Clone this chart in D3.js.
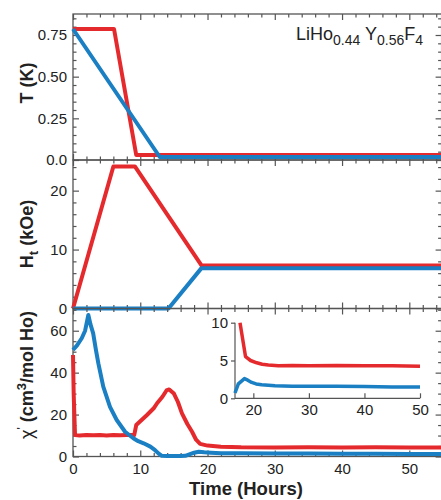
<!DOCTYPE html>
<html>
<head>
<meta charset="utf-8">
<script src="https://cdn.jsdelivr.net/npm/d3@7"></script>
<style>
  body { margin: 0; background: #fff; }
  svg { display: block; font-family: "Liberation Sans", Arial, sans-serif; }
</style>
</head>
<body>
<svg id="chart" width="441" height="500"></svg>
<script>
// ---- data ----
// temperature panel (K)
const tempRedT = [0, 6.1, 9.4, 54.8];
const tempRedV = [0.786, 0.786, 0.03, 0.03];
const tempBlueT = [0, 12.9, 54.8];
const tempBlueV = [0.786, 0.018, 0.018];

// transverse field panel (kOe)
const fieldRedT = [0, 6.0, 9.2, 19.1, 54.8];
const fieldRedV = [0, 24.1, 24.1, 7.3, 7.3];
const fieldBlueT = [0, 14.2, 19.1, 54.8];
const fieldBlueV = [0, 0, 6.85, 6.85];

// susceptibility panel (cm3/mol Ho)
const chiRedT = [0, 0.1, 0.3, 1, 2, 3, 4, 5, 6, 7, 8, 9.1, 9.4, 10, 11, 12, 12.5, 13.3, 13.9, 14.3, 15, 15.6, 16.2, 17, 17.7, 18.3, 18.9, 20, 22, 25, 30, 35, 40, 45, 50, 54.8];
const chiRedV = [48.4, 30, 10.2, 10.0, 10.3, 10.1, 10.2, 10.0, 10.3, 10.1, 10.2, 10.2, 15.0, 16.8, 19.8, 23, 25.4, 28.5, 31.5, 32, 30, 26, 20.6, 15.5, 11.8, 8, 6.0, 5.2, 4.7, 4.4, 4.3, 4.4, 4.3, 4.4, 4.3, 4.3];
const chiBlueT = [0, 0.6, 1.3, 1.8, 2.28, 2.6, 3.0, 3.4, 3.77, 4.5, 5.5, 6.5, 7.74, 8.97, 9.7, 10.5, 11.5, 12.2, 12.7, 13.2, 14, 15, 16, 16.7, 17.3, 18, 18.7, 19.5, 20.5, 22, 25, 30, 35, 40, 45, 50, 54.8];
const chiBlueV = [50.8, 53, 56.4, 60, 67.5, 63, 58.7, 51, 44.4, 33.3, 23.7, 17.4, 11.8, 8.7, 7.3, 6.3, 4.7, 3, 1.5, 0.3, 0.2, 0.2, 0.2, 0.3, 1.0, 1.8, 2.3, 2.0, 1.8, 1.6, 1.5, 1.4, 1.4, 1.3, 1.3, 1.2, 1.2];

// inset (zoom of the susceptibility after 17 h)
const insetRedT = [17.6, 18.6, 19.5, 20.6, 21.6, 22.7, 24.5, 27, 30, 35, 40, 45, 50];
const insetRedV = [10, 5.5, 5.0, 4.7, 4.5, 4.4, 4.3, 4.35, 4.3, 4.35, 4.3, 4.3, 4.25];
const insetBlueT = [16.7, 17.3, 18.4, 19.0, 19.7, 20.5, 21.5, 23.9, 27, 30, 35, 40, 45, 50];
const insetBlueV = [0.7, 1.9, 2.6, 2.4, 2.1, 1.9, 1.8, 1.65, 1.6, 1.6, 1.6, 1.55, 1.5, 1.5];

const xTicks = [0, 10, 20, 30, 40, 50];
const insetXTicks = [20, 30, 40, 50];
const insetYTicks = [0, 5, 10];

const RED = "#e52a2e";
const BLUE = "#1a7fc3";
const AXIS = "#555";
const TEXT = "#222";

const svg = d3.select("#chart");

const x = d3.scaleLinear().domain([0, 54.8]).range([73, 441.6]);

const panels = [
  { top: 14, bottom: 160, domain: [0, 0.876], major: [0, 0.25, 0.5, 0.75], minorStep: 0.05,
    fmt: d => d === 0 ? "0.0" : d3.format(".2f")(d),
    red: [tempRedT, tempRedV], blue: [tempBlueT, tempBlueV] },
  { top: 160, bottom: 308.5, domain: [0, 25.2], major: [0, 10, 20], minorStep: 2,
    fmt: d3.format("d"),
    red: [fieldRedT, fieldRedV], blue: [fieldBlueT, fieldBlueV] },
  { top: 308.5, bottom: 456.5, domain: [0, 70.6], major: [0, 20, 40, 60], minorStep: 5,
    fmt: d3.format("d"),
    red: [chiRedT, chiRedV], blue: [chiBlueT, chiBlueV] }
];

function zip(ts, vs) { return ts.map((t, i) => [t, vs[i]]); }

function styleAxis(g) {
  g.select(".domain").remove();
  g.selectAll(".tick line").attr("stroke", AXIS).attr("stroke-width", 1.2);
  g.selectAll(".tick text").attr("fill", TEXT).style("font-size", "15px");
}

const xMinor = d3.range(0, 55, 2).filter(v => v % 10 !== 0);

panels.forEach((p, idx) => {
  const y = d3.scaleLinear().domain(p.domain).range([p.bottom, p.top]);
  const minor = d3.range(0, p.domain[1], p.minorStep)
    .filter(v => !p.major.some(m => Math.abs(m - v) < 1e-6));

  // frame
  svg.append("rect")
    .attr("x", x.range()[0]).attr("y", p.top)
    .attr("width", x.range()[1] - x.range()[0]).attr("height", p.bottom - p.top)
    .attr("fill", "none").attr("stroke", AXIS).attr("stroke-width", 1.3);

  // left axis
  svg.append("g").attr("transform", `translate(${x.range()[0]},0)`)
    .call(d3.axisLeft(y).tickValues(p.major).tickFormat(p.fmt).tickSize(-6).tickPadding(6))
    .call(styleAxis);
  svg.append("g").attr("transform", `translate(${x.range()[0]},0)`)
    .call(d3.axisLeft(y).tickValues(minor).tickFormat("").tickSize(-3.5))
    .call(styleAxis);
  // right axis
  svg.append("g").attr("transform", `translate(${x.range()[1]},0)`)
    .call(d3.axisRight(y).tickValues(p.major).tickFormat("").tickSize(-6))
    .call(styleAxis);
  svg.append("g").attr("transform", `translate(${x.range()[1]},0)`)
    .call(d3.axisRight(y).tickValues(minor).tickFormat("").tickSize(-3.5))
    .call(styleAxis);

  // top & bottom x ticks (inward)
  svg.append("g").attr("transform", `translate(0,${p.top})`)
    .call(d3.axisTop(x).tickValues(xTicks).tickFormat("").tickSize(-6))
    .call(styleAxis);
  svg.append("g").attr("transform", `translate(0,${p.top})`)
    .call(d3.axisTop(x).tickValues(xMinor).tickFormat("").tickSize(-3.5))
    .call(styleAxis);
  svg.append("g").attr("transform", `translate(0,${p.bottom})`)
    .call(d3.axisBottom(x).tickValues(xTicks)
      .tickFormat(idx === 2 ? d3.format("d") : "").tickSize(-6).tickPadding(7))
    .call(styleAxis);
  svg.append("g").attr("transform", `translate(0,${p.bottom})`)
    .call(d3.axisBottom(x).tickValues(xMinor).tickFormat("").tickSize(-3.5))
    .call(styleAxis);

  const line = d3.line().x(d => x(d[0])).y(d => y(d[1]));
  svg.append("path").datum(zip(p.red[0], p.red[1]))
    .attr("d", line).attr("fill", "none").attr("stroke", RED)
    .attr("stroke-width", 4).attr("stroke-linejoin", "round");
  svg.append("path").datum(zip(p.blue[0], p.blue[1]))
    .attr("d", line).attr("fill", "none").attr("stroke", BLUE)
    .attr("stroke-width", 4).attr("stroke-linejoin", "round");
});

// ---- inset ----
const xi = d3.scaleLinear().domain([16.7, 50]).range([235, 420]);
const yi = d3.scaleLinear().domain([0, 10]).range([398.3, 322.7]);

const inset = svg.append("g");
inset.append("path")
  .attr("d", `M${xi.range()[0]},${yi(10)}V${yi(0)}H${xi.range()[1]}`)
  .attr("fill", "none").attr("stroke", AXIS).attr("stroke-width", 1.2);
inset.append("g").attr("transform", `translate(${xi.range()[0]},0)`)
  .call(d3.axisLeft(yi).tickValues(insetYTicks).tickSize(4).tickPadding(3))
  .call(styleAxis);
inset.append("g").attr("transform", `translate(0,${yi(0)})`)
  .call(d3.axisBottom(xi).tickValues(insetXTicks).tickSize(-5).tickPadding(6))
  .call(styleAxis);

const lineI = d3.line().x(d => xi(d[0])).y(d => yi(d[1]));
inset.append("path").datum(zip(insetRedT, insetRedV))
  .attr("d", lineI).attr("fill", "none").attr("stroke", RED)
  .attr("stroke-width", 3.5).attr("stroke-linejoin", "round");
inset.append("path").datum(zip(insetBlueT, insetBlueV))
  .attr("d", lineI).attr("fill", "none").attr("stroke", BLUE)
  .attr("stroke-width", 3.5).attr("stroke-linejoin", "round");

// ---- texts ----
const title = svg.append("text")
  .attr("x", 423).attr("y", 40).attr("text-anchor", "end")
  .attr("fill", TEXT).style("font-size", "18px");
title.append("tspan").text("LiHo");
title.append("tspan").attr("dy", 5).style("font-size", "14px").text("0.44");
title.append("tspan").attr("dy", -5).text(" Y");
title.append("tspan").attr("dy", 5).style("font-size", "14px").text("0.56");
title.append("tspan").attr("dy", -5).text("F");
title.append("tspan").attr("dy", 5).style("font-size", "14px").text("4");

function yLabel(cy) {
  return svg.append("text")
    .attr("transform", `translate(27,${cy}) rotate(-90)`)
    .attr("text-anchor", "middle").attr("dy", "0.35em")
    .attr("fill", TEXT).style("font-size", "18px").style("font-weight", "bold");
}

yLabel(83).text("T (K)");

const hl = yLabel(234);
hl.append("tspan").text("H");
hl.append("tspan").attr("dy", 5).style("font-size", "13px").text("t");
hl.append("tspan").attr("dy", -5).text(" (kOe)");

const cl = yLabel(375);
cl.append("tspan").style("font-weight", "normal").text("χ");
cl.append("tspan").attr("dy", -7).style("font-size", "12px").style("font-weight", "normal").text("'");
cl.append("tspan").attr("dy", 7).text(" (cm");
cl.append("tspan").attr("dy", -7).style("font-size", "13px").text("3");
cl.append("tspan").attr("dy", 7).text("/mol Ho)");

svg.append("text")
  .attr("x", 246).attr("y", 495).attr("text-anchor", "middle")
  .attr("fill", TEXT).style("font-size", "18.5px").style("font-weight", "bold")
  .text("Time (Hours)");
</script>
</body>
</html>
